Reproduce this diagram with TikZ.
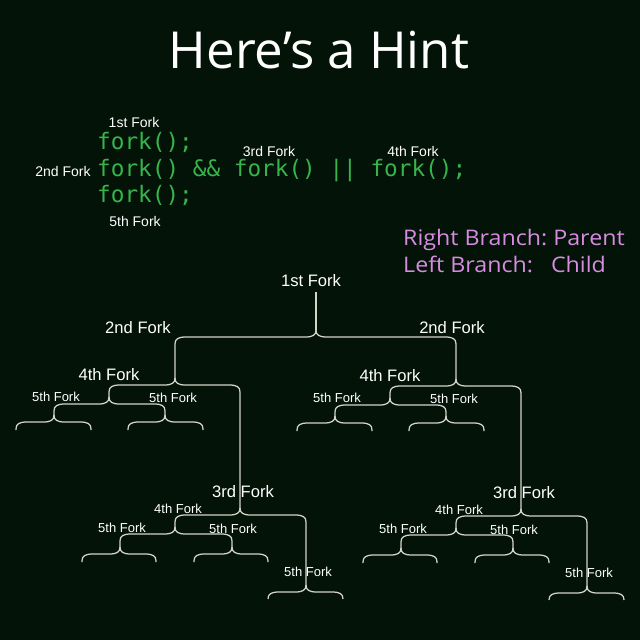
\documentclass[tikz,border=0pt]{standalone}
\usepackage{fontspec}
\usetikzlibrary{calc}
\setmainfont{Liberation Sans}
\newfontfamily\codefont{DejaVu Sans Mono}
\newfontfamily\handfont{Open Sans}
\newfontfamily\legendfont[FakeStretch=1.08]{Open Sans}
\definecolor{bg}{RGB}{3,19,7}
\definecolor{codegreen}{RGB}{55,180,75}
\definecolor{hintpink}{RGB}{215,140,225}
\definecolor{linegray}{RGB}{212,212,200}
\tikzset{
  br/.style={draw=linegray, line width=1.25pt},
  arm/.style={to path={let \p1=(\tikztostart), \p2=(\tikztotarget), \n1={sign(\x2-\x1)} in
    (\p1) .. controls ({\x1},{\y1-5pt}) and ({\x1+\n1*3pt},{\y1-7pt}) .. ({\x1+\n1*11pt},{\y1-7pt})
    -- ({\x2-\n1*11pt},{\y1-7pt}) .. controls ({\x2-\n1*3pt},{\y1-7pt}) and ({\x2},{\y1-9pt}) .. ({\x2},{\y1-14pt})
    -- (\p2)}},
  biglab/.style={text=white, font=\fontsize{16.6}{18}\selectfont, inner sep=0pt},
  smalllab/.style={text=white, font=\fontsize{13}{15}\selectfont, inner sep=0pt},
  codelab/.style={text=white, font=\fontsize{14}{16}\selectfont, inner sep=0pt},
  codeline/.style={text=codegreen, font=\codefont\fontsize{22.7}{26}\selectfont, inner sep=0pt, anchor=base west},
  hint/.style={text=hintpink, font=\legendfont\fontsize{21.5}{24}\selectfont, inner sep=0pt, anchor=base west},
  titlestyle/.style={text=white, font=\handfont\fontsize{51}{56}\selectfont, inner sep=0pt}
}
\newcommand\forktree[3]{%
\begin{scope}[shift={(#2,#3)}]
  \coordinate (#1-2) at (175,378);
  \coordinate (#1-4) at (109,397);
  \coordinate (#1-45a) at (54,415);
  \coordinate (#1-45b) at (165,415);
  \coordinate (#1-45a1) at (16,430);
  \coordinate (#1-45a2) at (91,430);
  \coordinate (#1-45b1) at (128,430);
  \coordinate (#1-45b2) at (203,430);
  \coordinate (#1-3) at (240,508);
  \coordinate (#1-34) at (175,527);
  \coordinate (#1-345a) at (120,547);
  \coordinate (#1-345b) at (232,547);
  \coordinate (#1-345a1) at (82,562);
  \coordinate (#1-345a2) at (156,562);
  \coordinate (#1-345b1) at (194,562);
  \coordinate (#1-345b2) at (268,562);
  \coordinate (#1-35) at (306,585);
  \coordinate (#1-351) at (268,599);
  \coordinate (#1-352) at (343,599);
  \draw[br] (#1-2) to[arm] (#1-4);
  \draw[br] (#1-2) to[arm] (#1-3);
  \draw[br] (#1-4) to[arm] (#1-45a);
  \draw[br] (#1-4) to[arm] (#1-45b);
  \draw[br] (#1-45a) to[arm] (#1-45a1);
  \draw[br] (#1-45a) to[arm] (#1-45a2);
  \draw[br] (#1-45b) to[arm] (#1-45b1);
  \draw[br] (#1-45b) to[arm] (#1-45b2);
  \draw[br] (#1-3) to[arm] (#1-34);
  \draw[br] (#1-3) to[arm] (#1-35);
  \draw[br] (#1-34) to[arm] (#1-345a);
  \draw[br] (#1-34) to[arm] (#1-345b);
  \draw[br] (#1-345a) to[arm] (#1-345a1);
  \draw[br] (#1-345a) to[arm] (#1-345a2);
  \draw[br] (#1-345b) to[arm] (#1-345b1);
  \draw[br] (#1-345b) to[arm] (#1-345b2);
  \draw[br] (#1-35) to[arm] (#1-351);
  \draw[br] (#1-35) to[arm] (#1-352);
  \node[biglab] (#1-l4) at (109,375) {4th Fork};
  \node[smalllab] (#1-l5a) at (56,397) {5th Fork};
  \node[smalllab] (#1-l5b) at (173,398) {5th Fork};
  \node[biglab] (#1-l3) at (243,492) {3rd Fork};
  \node[smalllab] (#1-l34) at (178,509) {4th Fork};
  \node[smalllab] (#1-l345a) at (122,528) {5th Fork};
  \node[smalllab] (#1-l345b) at (233,529) {5th Fork};
  \node[smalllab] (#1-l35) at (308,572) {5th Fork};
\end{scope}}
\begin{document}
\begin{tikzpicture}[x=1pt,y=-1pt]
  \fill[bg] (0,0) rectangle (640,640);
  \useasboundingbox (0,0) rectangle (640,640);
  % title
  \node[titlestyle] (title) at (319,50) {Here’s a Hint};
  % code
  \node[codeline] (c1) at (97,149) {fork();};
  \node[codeline] (c2) at (97,176) {fork() \&\& fork() || fork();};
  \node[codeline] (c3) at (97,202) {fork();};
  \node[codelab] (k1) at (134,122) {1st Fork};
  \node[codelab] (k2) at (63,171) {2nd Fork};
  \node[codelab] (k3) at (269,151) {3rd Fork};
  \node[codelab] (k4) at (413,151) {4th Fork};
  \node[codelab] (k5) at (135,221) {5th Fork};
  % legend
  \node[hint] (h1) at (403,245) {Right Branch:\hspace{6pt}Parent};
  \node[hint] (h2) at (403,272) {Left Branch:\hspace{18pt}Child};
  % tree
  \node[biglab] (l1) at (311,281) {1st Fork};
  \coordinate (root) at (316,292);
  \coordinate (t1) at (316,330);
  \draw[br] (root) -- (t1);
  \forktree{L}{0}{0}
  \forktree{R}{281}{1}
  \draw[br] (t1) to[arm] (L-2);
  \draw[br] (t1) to[arm] (R-2);
  \node[biglab] (l2L) at (138,328) {2nd Fork};
  \node[biglab] (l2R) at (452,328) {2nd Fork};
\end{tikzpicture}
\end{document}
